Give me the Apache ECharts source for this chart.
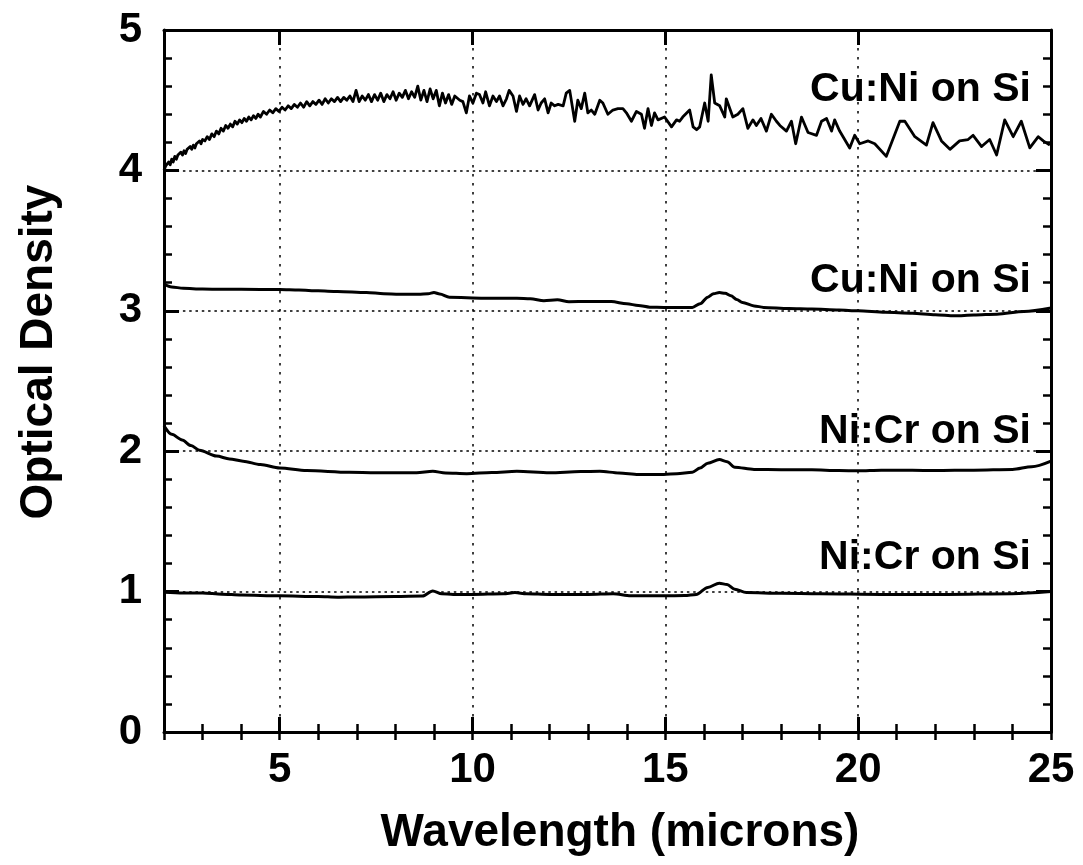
<!DOCTYPE html>
<html>
<head>
<meta charset="utf-8">
<title>Optical Density vs Wavelength</title>
<script src="https://cdn.jsdelivr.net/npm/echarts@6/dist/echarts.min.js"></script>
<style>
  html, body { margin: 0; padding: 0; background: #ffffff; }
  #chart { width: 1083px; height: 865px; }
</style>
</head>
<body>
<div id="chart"></div>
<script>
// Spectra: [wavelength (microns), optical density]
const cuNiTop = [
  [2.00,4.00],[2.04,4.03],[2.08,4.02],[2.12,4.06],[2.16,4.04],[2.20,4.08],[2.24,4.06],[2.28,4.10],
  [2.32,4.08],[2.36,4.11],[2.40,4.10],[2.44,4.13],[2.48,4.11],[2.52,4.14],[2.56,4.12],[2.60,4.15],
  [2.64,4.14],[2.68,4.17],[2.72,4.15],[2.76,4.18],[2.80,4.16],[2.84,4.19],[2.88,4.18],[2.92,4.21],
  [2.96,4.19],[3.00,4.22],[3.06,4.21],[3.12,4.24],[3.18,4.22],[3.24,4.26],[3.30,4.24],[3.36,4.28],
  [3.42,4.26],[3.48,4.30],[3.54,4.28],[3.60,4.32],[3.66,4.30],[3.72,4.33],[3.78,4.31],[3.84,4.35],
  [3.90,4.33],[3.96,4.36],[4.02,4.34],[4.08,4.37],[4.14,4.35],[4.20,4.38],[4.26,4.36],[4.32,4.39],
  [4.38,4.37],[4.44,4.40],[4.50,4.38],[4.58,4.42],[4.66,4.40],[4.74,4.43],[4.82,4.41],[4.90,4.44],
  [4.98,4.42],[5.06,4.45],[5.14,4.43],[5.22,4.46],[5.30,4.44],[5.38,4.47],[5.46,4.45],[5.54,4.48],
  [5.62,4.45],[5.70,4.49],[5.78,4.46],[5.86,4.49],[5.94,4.47],[6.02,4.50],[6.10,4.47],[6.18,4.51],
  [6.26,4.48],[6.34,4.51],[6.42,4.49],[6.50,4.52],[6.58,4.49],[6.66,4.52],[6.74,4.50],[6.82,4.53],
  [6.90,4.49],[6.98,4.57],[7.06,4.49],[7.14,4.53],[7.22,4.50],[7.30,4.54],[7.38,4.49],[7.46,4.54],
  [7.54,4.50],[7.62,4.55],[7.70,4.49],[7.78,4.54],[7.86,4.51],[7.94,4.56],[8.02,4.50],[8.10,4.55],
  [8.18,4.52],[8.26,4.57],[8.34,4.51],[8.42,4.56],[8.50,4.52],[8.58,4.60],[8.66,4.50],[8.74,4.57],
  [8.82,4.49],[8.90,4.58],[8.98,4.51],[9.06,4.57],[9.14,4.46],[9.22,4.55],[9.30,4.48],[9.38,4.54],
  [9.46,4.47],[9.54,4.53],[9.67,4.50],[9.75,4.49],[9.84,4.41],[9.92,4.53],[10.01,4.48],[10.10,4.55],
  [10.18,4.54],[10.27,4.48],[10.34,4.56],[10.44,4.46],[10.53,4.53],[10.62,4.49],[10.70,4.53],
  [10.79,4.46],[10.88,4.51],[10.95,4.57],[11.05,4.53],[11.14,4.42],[11.22,4.53],[11.31,4.47],
  [11.39,4.51],[11.48,4.46],[11.61,4.54],[11.70,4.43],[11.78,4.48],[11.87,4.51],[11.96,4.41],
  [12.04,4.48],[12.13,4.46],[12.22,4.47],[12.35,4.46],[12.43,4.55],[12.52,4.57],[12.65,4.35],
  [12.73,4.50],[12.82,4.44],[12.91,4.55],[12.99,4.41],[13.08,4.43],[13.17,4.40],[13.30,4.50],
  [13.38,4.48],[13.51,4.40],[13.64,4.43],[13.77,4.44],[13.90,4.44],[13.99,4.41],[14.12,4.35],
  [14.25,4.42],[14.38,4.40],[14.46,4.30],[14.55,4.44],[14.64,4.32],[14.72,4.41],[14.81,4.36],
  [14.85,4.36],[14.98,4.38],[15.16,4.31],[15.29,4.36],[15.37,4.35],[15.45,4.38],[15.63,4.43],
  [15.72,4.31],[15.81,4.29],[15.89,4.31],[16.02,4.48],[16.11,4.35],[16.19,4.68],[16.28,4.48],
  [16.41,4.46],[16.54,4.38],[16.58,4.51],[16.75,4.38],[16.88,4.40],[17.01,4.44],[17.14,4.30],
  [17.27,4.36],[17.36,4.32],[17.48,4.37],[17.62,4.28],[17.75,4.40],[17.88,4.35],[17.97,4.32],
  [18.14,4.28],[18.27,4.35],[18.38,4.19],[18.53,4.38],[18.70,4.27],[18.92,4.25],[19.05,4.35],
  [19.18,4.37],[19.31,4.28],[19.39,4.36],[19.52,4.28],[19.78,4.16],[19.91,4.25],[20.04,4.19],
  [20.26,4.21],[20.43,4.19],[20.73,4.10],[21.08,4.35],[21.21,4.35],[21.47,4.24],[21.77,4.18],
  [21.94,4.34],[22.16,4.21],[22.38,4.15],[22.63,4.21],[22.85,4.22],[22.98,4.25],[23.20,4.17],
  [23.41,4.22],[23.59,4.11],[23.80,4.36],[24.02,4.24],[24.23,4.35],[24.45,4.16],[24.67,4.24],
  [24.80,4.21],[24.97,4.18]
];

const cuNiLower = [
  [2.0,3.19],[2.2,3.17],[2.5,3.16],[3.0,3.155],[3.5,3.153],[4.0,3.153],[5.0,3.152],[5.5,3.148],
  [6.0,3.142],[6.5,3.138],[7.25,3.13],[7.7,3.122],[8.1,3.117],[8.6,3.117],[8.85,3.122],[9.0,3.13],
  [9.15,3.12],[9.4,3.097],[10.3,3.09],[11.15,3.09],[11.5,3.085],[11.85,3.072],[12.2,3.078],
  [12.5,3.065],[13.0,3.066],[13.6,3.066],[14.0,3.05],[14.3,3.038],[14.6,3.026],[14.96,3.024],
  [15.7,3.024],[15.9,3.05],[16.1,3.097],[16.25,3.122],[16.4,3.13],[16.55,3.125],[16.7,3.107],
  [16.85,3.08],[17.0,3.059],[17.3,3.035],[17.55,3.024],[18.2,3.016],[18.8,3.012],[19.5,3.006],
  [20.0,3.0],[20.7,2.99],[21.4,2.983],[22.0,2.972],[22.5,2.964],[23.0,2.97],[23.6,2.976],
  [24.3,2.995],[25.0,3.02]
];

const niCrUpper = [
  [2.0,2.18],[2.2,2.12],[2.47,2.08],[2.7,2.04],[2.92,2.007],[3.36,1.965],[3.7,1.945],[4.05,1.929],
  [4.5,1.905],[5.0,1.88],[5.7,1.862],[6.8,1.85],[7.5,1.847],[8.55,1.846],[8.97,1.857],[9.3,1.845],
  [9.85,1.84],[10.5,1.848],[11.15,1.857],[12.0,1.846],[12.8,1.855],[13.3,1.857],[13.8,1.845],
  [14.3,1.834],[14.96,1.834],[15.3,1.84],[15.7,1.85],[15.9,1.88],[16.1,1.915],[16.4,1.94],
  [16.6,1.925],[16.8,1.886],[17.3,1.87],[18.0,1.868],[18.8,1.867],[19.5,1.862],[20.0,1.86],
  [20.6,1.865],[21.4,1.864],[22.0,1.862],[23.0,1.865],[24.0,1.87],[24.5,1.89],[25.0,1.93]
];

const niCrLower = [
  [2.0,0.995],[2.5,0.99],[3.0,0.99],[3.5,0.982],[4.0,0.975],[5.0,0.97],[6.0,0.965],[6.5,0.96],
  [7.0,0.962],[8.0,0.965],[8.7,0.968],[8.97,1.005],[9.2,0.985],[9.5,0.98],[10.0,0.98],[10.8,0.985],
  [11.1,0.993],[11.4,0.985],[12.0,0.98],[13.0,0.98],[13.65,0.985],[14.1,0.97],[14.96,0.97],
  [15.5,0.972],[15.8,0.98],[16.1,1.03],[16.4,1.06],[16.6,1.05],[16.8,1.017],[17.1,0.993],
  [18.0,0.988],[19.0,0.985],[20.6,0.98],[22.3,0.98],[24.0,0.985],[25.0,1.0]
];

// Curve labels and where they sit (data coordinates, right-aligned)
const labelTexts = ['Cu:Ni on Si', 'Cu:Ni on Si', 'Ni:Cr on Si', 'Ni:Cr on Si'];
const labelX = [24.48, 24.48, 24.48, 24.48];
const labelY = [4.573, 3.216, 2.137, 1.239];

// Axis ticks
const xMajorTicks = [5, 10, 15, 20, 25];
const xAxisTitle = 'Wavelength (microns)';
const yAxisTitle = 'Optical Density';

const FONT = '"Liberation Sans", Arial, Helvetica, sans-serif';
const BLACK = '#000000';

const chart = echarts.init(document.getElementById('chart'), null, { renderer: 'canvas' });

const majorXAxis = (position, withLabels) => ({
  type: 'value',
  position: position,
  min: 2,
  max: 25,
  axisLine: { show: true, onZero: false, lineStyle: { color: BLACK, width: 3 } },
  axisTick: { show: true, inside: true, length: 15, customValues: xMajorTicks,
              lineStyle: { color: BLACK, width: 3 } },
  axisLabel: { show: withLabels, customValues: xMajorTicks, margin: 17, color: BLACK,
               fontSize: 42, fontWeight: 'bold', fontFamily: FONT },
  splitLine: { show: withLabels, lineStyle: { color: BLACK, width: 1.5, type: [2.5, 6.5] } },
  name: withLabels ? xAxisTitle : '',
  nameLocation: 'middle',
  nameGap: 78,
  nameTextStyle: { color: BLACK, fontSize: 46, fontWeight: 'bold', fontFamily: FONT,
                   padding: [0, 0, 0, 25] }
});

const minorXAxis = (position) => ({
  type: 'value',
  position: position,
  min: 2,
  max: 25,
  interval: 1,
  axisLine: { show: false },
  axisTick: { show: true, inside: true, length: 8, lineStyle: { color: BLACK, width: 2.5 } },
  axisLabel: { show: false },
  splitLine: { show: false }
});

const yAxisDef = (position, withLabels) => ({
  type: 'value',
  position: position,
  min: 0,
  max: 5,
  interval: 1,
  axisLine: { show: true, onZero: false, lineStyle: { color: BLACK, width: 3 } },
  axisTick: { show: true, inside: true, length: 15, lineStyle: { color: BLACK, width: 3 } },
  minorTick: { show: true, splitNumber: 5, length: 8, lineStyle: { color: BLACK, width: 2.5 } },
  axisLabel: { show: withLabels, margin: 22, color: BLACK, fontSize: 42, fontWeight: 'bold',
               fontFamily: FONT },
  splitLine: { show: withLabels, lineStyle: { color: BLACK, width: 1.5, type: [2.5, 3.8] } },
  minorSplitLine: { show: false },
  name: withLabels ? yAxisTitle : '',
  nameLocation: 'middle',
  nameGap: 102,
  nameRotate: 90,
  nameTextStyle: { color: BLACK, fontSize: 46, fontWeight: 'bold', fontFamily: FONT,
                   padding: [0, 0, 0, 58] }
});

const spectrum = (name, data, width, smooth) => ({
  name: name,
  type: 'line',
  xAxisIndex: 0,
  yAxisIndex: 0,
  data: data,
  showSymbol: false,
  symbol: 'none',
  smooth: smooth,
  smoothMonotone: 'x',
  lineStyle: { color: BLACK, width: width, join: 'round' },
  z: 5
});

chart.setOption({
  animation: false,
  backgroundColor: '#ffffff',
  textStyle: { fontFamily: FONT },
  grid: { left: 164, right: 32, top: 30, bottom: 133, containLabel: false },
  xAxis: [
    majorXAxis('bottom', true),
    minorXAxis('bottom'),
    majorXAxis('top', false),
    minorXAxis('top')
  ],
  yAxis: [
    yAxisDef('left', true),
    yAxisDef('right', false)
  ],
  series: [
    spectrum('Cu:Ni on Si (upper)', cuNiTop, 2.8, false),
    spectrum('Cu:Ni on Si (lower)', cuNiLower, 3, 0.3),
    spectrum('Ni:Cr on Si (upper)', niCrUpper, 3, 0.3),
    spectrum('Ni:Cr on Si (lower)', niCrLower, 3, 0.3),
    {
      name: 'labels',
      type: 'scatter',
      xAxisIndex: 0,
      yAxisIndex: 0,
      symbolSize: 0,
      silent: true,
      itemStyle: { opacity: 1, color: BLACK },
      data: labelTexts.map((t, i) => ({ name: t, value: [labelX[i], labelY[i]] })),
      label: {
        show: true,
        position: 'left',
        distance: 0,
        formatter: '{b}',
        color: BLACK,
        opacity: 1,
        fontSize: 41,
        fontWeight: 'bold',
        fontFamily: FONT
      },
      z: 10
    }
  ]
});
</script>
</body>
</html>
